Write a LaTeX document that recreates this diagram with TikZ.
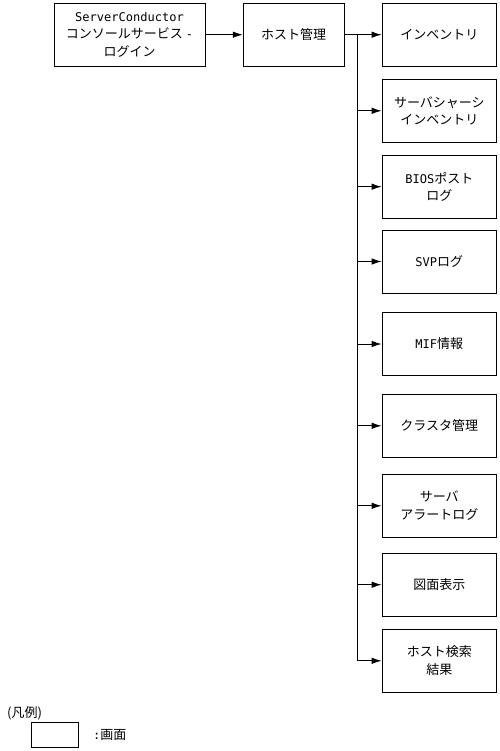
\documentclass[tikz,border=0pt]{standalone}
\usepackage{fontspec}
\setmainfont{Noto Sans CJK JP}
\newfontfamily\lat[Scale=0.925]{DejaVu Sans Mono}
\usetikzlibrary{arrows.meta}
\begin{document}
\begin{tikzpicture}[x=1pt,y=-1pt,
  box/.style={draw,line width=0.9pt,rectangle,inner sep=0pt,align=center,
    font=\fontsize{13}{17.5}\selectfont},
  lbox/.style={box,minimum width=114.5pt,minimum height=63pt},
  arr/.style={line width=0.9pt,-{Latex[length=10pt,width=6.5pt]}},
  ln/.style={line width=0.9pt}]
\useasboundingbox (0,0) rectangle (499,751);
\node[box,minimum width=151pt,minimum height=63pt] (a) at (129.5,34.7)
  {{\lat ServerConductor}\\コンソールサービス {\lat -}\\ログイン};
\node[box,minimum width=101pt,minimum height=63pt] (b) at (293.7,34.7) {ホスト管理};
\node[lbox] (r1) at (439.3,34.7) {インベントリ};
\node[lbox] (r2) at (439.3,110.8) {サーバシャーシ\\インベントリ};
\node[lbox] (r3) at (439.3,186.7) {{\lat BIOS}ポスト\\ログ};
\node[lbox] (r4) at (439.3,261.5) {{\lat SVP}ログ};
\node[lbox] (r5) at (439.3,344.0) {{\lat MIF}情報};
\node[lbox] (r6) at (439.3,425.8) {クラスタ管理};
\node[lbox] (r7) at (439.3,505.8) {サーバ\\アラートログ};
\node[lbox] (r8) at (439.3,584.7) {図面表示};
\node[lbox] (r9) at (439.3,660.8) {ホスト検索\\結果};
\coordinate (bus) at (357.5,34.7);
\coordinate (busend) at (357.5,660.8);
\draw[arr] (a.east) -- (b.west);
\draw[ln] (b.east) -- (bus);
\draw[ln] (bus) -- (busend);
\foreach \i in {1,...,9} {
  \draw[arr] (r\i.west -| bus) -- (r\i.west);
}
\node[anchor=west,inner sep=0pt,font=\fontsize{13}{15}\selectfont] (lg) at (7,713) {(凡例)};
\node[draw,line width=0.9pt,minimum width=46.6pt,minimum height=24.6pt,inner sep=0pt] (lb) at (55,735) {};
\node[anchor=west,inner sep=0pt,font=\fontsize{13}{15}\selectfont] (lt) at (93,735) {{\lat :}画面};
\end{tikzpicture}
\end{document}
